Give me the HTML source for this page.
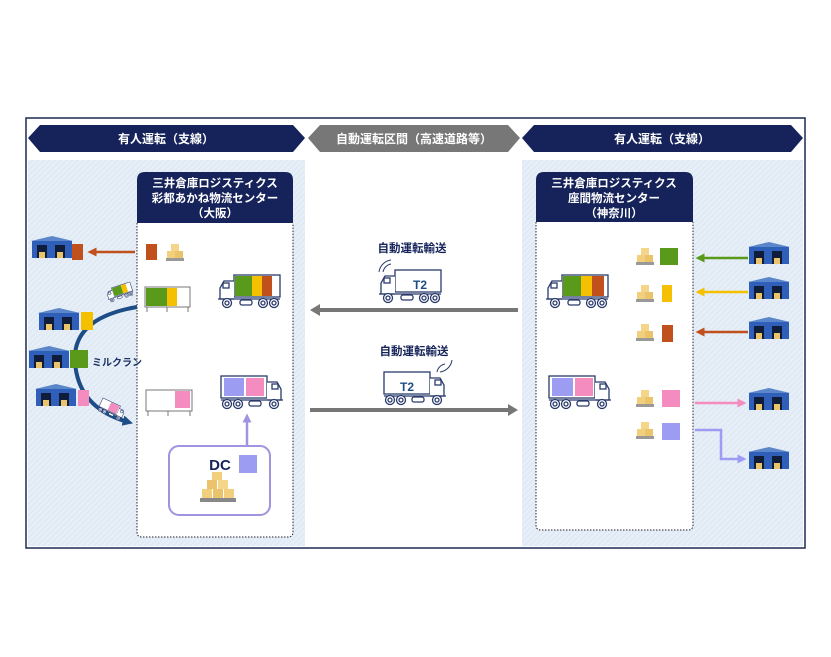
<!DOCTYPE html>
<html><head><meta charset="utf-8"><style>
html,body{margin:0;padding:0;background:#fff;}
svg{display:block;font-family:"Liberation Sans","Noto Sans CJK JP",sans-serif;}
</style></head><body>
<svg width="831" height="657" viewBox="0 0 831 657" xmlns="http://www.w3.org/2000/svg">
<defs>
<pattern id="hatch" width="4" height="4" patternUnits="userSpaceOnUse" patternTransform="rotate(45)">
<rect width="4" height="4" fill="#e6eef7"/><line x1="0" y1="0" x2="0" y2="4" stroke="#d9e4f0" stroke-width="1.5"/>
</pattern>
<g id="wh">
<polygon points="0,5 21,0 42,5" fill="#5b86c9"/>
<rect x="1" y="5" width="40" height="17" fill="#2f5fb8"/>
<rect x="6" y="9" width="10" height="13" fill="#0f1d3a"/>
<rect x="24" y="9" width="10" height="13" fill="#0f1d3a"/>
<rect x="8" y="16" width="6" height="6" fill="#e9c46a"/>
<rect x="26" y="16" width="6" height="6" fill="#e9c46a"/>
</g>
<g id="box">
<rect x="0" y="15" width="18" height="3" fill="#999"/>
<rect x="1" y="8" width="8" height="7" fill="#f2cf7c"/>
<rect x="9" y="8" width="8" height="7" fill="#ebc36a"/>
<rect x="5" y="1" width="8" height="7" fill="#f4d58a"/>
</g>
<g id="tl" fill="none" stroke="#2a3b6b" stroke-width="1.3">
<rect x="16" y="0" width="46" height="22" fill="#fff"/>
<path d="M16,6 H6 L2,13 V24 H16" fill="#fff"/>
<rect x="5" y="8" width="6" height="5"/>
<line x1="0" y1="24" x2="62" y2="24"/>
<circle cx="9" cy="28" r="4.5" fill="#fff"/><circle cx="9" cy="28" r="2"/>
<circle cx="45" cy="28" r="4.5" fill="#fff"/><circle cx="45" cy="28" r="2"/>
<circle cx="56" cy="28" r="4.5" fill="#fff"/><circle cx="56" cy="28" r="2"/>
<rect x="22" y="25" width="12" height="5" rx="2" fill="#fff"/>
</g>
<g id="tr" fill="none" stroke="#2a3b6b" stroke-width="1.3">
<rect x="0" y="0" width="46" height="22" fill="#fff"/>
<path d="M46,6 H56 L60,13 V24 H46" fill="#fff"/>
<rect x="51" y="8" width="6" height="5"/>
<line x1="0" y1="24" x2="62" y2="24"/>
<circle cx="6" cy="28" r="4.5" fill="#fff"/><circle cx="6" cy="28" r="2"/>
<circle cx="17" cy="28" r="4.5" fill="#fff"/><circle cx="17" cy="28" r="2"/>
<circle cx="53" cy="28" r="4.5" fill="#fff"/><circle cx="53" cy="28" r="2"/>
<rect x="28" y="25" width="12" height="5" rx="2" fill="#fff"/>
</g>
<marker id="ah" markerWidth="3.6" markerHeight="3.6" refX="1.8" refY="1.8" orient="auto" markerUnits="strokeWidth"><path d="M0,0 L3.6,1.8 L0,3.6 z" fill="context-stroke"/></marker>
<marker id="ah2" markerWidth="2.6" markerHeight="2.6" refX="1.3" refY="1.3" orient="auto" markerUnits="strokeWidth"><path d="M0,0 L2.6,1.3 L0,2.6 z" fill="#1d4d86"/></marker>
</defs>

<rect x="26" y="118" width="779" height="430" fill="#fff" stroke="#1c2a55" stroke-width="1.5"/>
<rect x="28" y="160" width="277" height="386" fill="url(#hatch)"/>
<rect x="522" y="160" width="281" height="386" fill="url(#hatch)"/>

<polygon points="28,138 40,125 293,125 305,138 293,152 40,152" fill="#16235a"/>
<text x="166" y="143" fill="#fff" font-size="12" font-weight="bold" text-anchor="middle">有人運転（支線）</text>
<polygon points="308,138 320,125 508,125 520,138 508,152 320,152" fill="#777"/>
<text x="414" y="143" fill="#fff" font-size="12" font-weight="bold" text-anchor="middle">自動運転区間（高速道路等）</text>
<polygon points="522,138 534,125 791,125 803,138 791,152 534,152" fill="#16235a"/>
<text x="662" y="143" fill="#fff" font-size="12" font-weight="bold" text-anchor="middle">有人運転（支線）</text>

<path d="M137,223 V532 Q137,537 142,537 H288 Q293,537 293,532 V223" fill="#fff" stroke="#223" stroke-dasharray="1.5 1.5"/>
<path d="M137,223 V180 Q137,172 145,172 H285 Q293,172 293,180 V223 Z" fill="#16235a"/>
<text fill="#fff" font-size="11.5" font-weight="bold" text-anchor="middle"><tspan x="215" y="187">三井倉庫ロジスティクス</tspan><tspan x="215" y="202">彩都あかね物流センター</tspan><tspan x="215" y="217">（大阪）</tspan></text>

<path d="M536,222 V525 Q536,530 541,530 H688 Q693,530 693,525 V222" fill="#fff" stroke="#223" stroke-dasharray="1.5 1.5"/>
<path d="M536,222 V180 Q536,172 544,172 H685 Q693,172 693,180 V222 Z" fill="#16235a"/>
<text fill="#fff" font-size="11.5" font-weight="bold" text-anchor="middle"><tspan x="614" y="187">三井倉庫ロジスティクス</tspan><tspan x="614" y="202">座間物流センター</tspan><tspan x="614" y="217">（神奈川）</tspan></text>

<use href="#wh" x="31" y="236"/>
<rect x="72" y="244" width="11" height="16" fill="#c0501c"/>
<line x1="135" y1="252" x2="92" y2="252" stroke="#c0501c" stroke-width="2.5" marker-end="url(#ah)"/>
<rect x="146" y="244" width="11" height="16" fill="#c0501c"/>
<use href="#box" x="166" y="243"/>

<rect x="145" y="287" width="45" height="20" fill="#fff" stroke="#777"/>
<rect x="146" y="288" width="21" height="18" fill="#5a9a1a"/>
<rect x="167" y="288" width="10" height="18" fill="#f5c000"/>
<path d="M147,307 v5 M167,307 v5 M188,307 v5" stroke="#777"/>
<use href="#tl" x="218" y="275"/>
<rect x="235" y="276" width="17" height="20" fill="#5a9a1a"/><rect x="252" y="276" width="10" height="20" fill="#f5c000"/><rect x="262" y="276" width="10" height="20" fill="#c0501c"/>

<path d="M137,307 Q72,318 75,362 Q78,408 128,422" fill="none" stroke="#1d4d86" stroke-width="4" marker-end="url(#ah2)"/>
<g transform="translate(105,290) rotate(-18) scale(0.42)"><use href="#tl"/><rect x="17" y="1" width="22" height="20" fill="#5a9a1a"/><rect x="39" y="1" width="12" height="20" fill="#f5c000"/></g>
<g transform="translate(103,398) rotate(25) scale(0.42)"><use href="#tr"/><rect x="22" y="1" width="22" height="20" fill="#f48cc0"/></g>
<use href="#wh" x="38" y="308"/>
<rect x="81" y="312" width="12" height="18" fill="#f5c000"/>
<use href="#wh" x="28" y="346"/>
<rect x="70" y="350" width="18" height="18" fill="#5a9a1a"/>
<text x="92" y="366" font-size="10" fill="#1d3566" font-weight="bold">ミルクラン</text>
<use href="#wh" x="35" y="384"/>
<rect x="78" y="390" width="11" height="16" fill="#f48cc0"/>

<rect x="146" y="390" width="46" height="21" fill="#fff" stroke="#777"/>
<rect x="175" y="391" width="15" height="17" fill="#f48cc0"/>
<path d="M148,411 v5 M168,411 v5 M190,411 v5" stroke="#777"/>
<use href="#tr" x="221" y="376"/>
<rect x="224" y="378" width="20" height="18" fill="#9c9cf2"/><rect x="246" y="378" width="18" height="18" fill="#f48cc0"/>
<line x1="247" y1="446" x2="247" y2="418" stroke="#9e94df" stroke-width="2.5" marker-end="url(#ah)"/>
<rect x="169" y="446" width="101" height="69" rx="10" fill="#fff" stroke="#9e94df" stroke-width="2"/>
<text x="220" y="470" font-size="15" font-weight="bold" fill="#16235a" text-anchor="middle">DC</text>
<rect x="239" y="455" width="18" height="18" fill="#9c9cf2"/>
<g transform="translate(198,472)">
<rect x="2" y="26" width="36" height="4" fill="#888"/>
<rect x="4" y="17" width="10" height="9" fill="#f2cf7c"/><rect x="15" y="17" width="10" height="9" fill="#ebc36a"/><rect x="26" y="17" width="10" height="9" fill="#f2cf7c"/>
<rect x="9" y="8" width="10" height="9" fill="#ebc36a"/><rect x="20" y="8" width="10" height="9" fill="#f4d58a"/>
<rect x="14" y="0" width="10" height="8" fill="#f2cf7c"/>
</g>

<text x="412" y="252" font-size="11.5" font-weight="bold" fill="#16235a" text-anchor="middle">自動運転輸送</text>
<use href="#tl" x="379" y="270"/>
<text x="420" y="289" font-size="12" font-weight="bold" fill="#1d4d86" text-anchor="middle">T2</text>
<path d="M383,272 a10,10 0 0 1 8,-8 M379,272 a14,14 0 0 1 12,-12" stroke="#2a3b6b" fill="none"/>
<line x1="518" y1="310" x2="318" y2="310" stroke="#777" stroke-width="4"/>
<polygon points="310,310 320,304 320,316" fill="#777"/>
<text x="414" y="355" font-size="11.5" font-weight="bold" fill="#16235a" text-anchor="middle">自動運転輸送</text>
<use href="#tr" x="384" y="372"/>
<text x="407" y="391" font-size="12" font-weight="bold" fill="#1d4d86" text-anchor="middle">T2</text>
<path d="M437,372 a10,10 0 0 1 8,-8 M440,372 a14,14 0 0 0 12,-12" stroke="#2a3b6b" fill="none"/>
<line x1="310" y1="410" x2="510" y2="410" stroke="#777" stroke-width="4"/>
<polygon points="518,410 508,404 508,416" fill="#777"/>

<use href="#tl" x="546" y="275"/>
<rect x="563" y="276" width="18" height="20" fill="#5a9a1a"/><rect x="581" y="276" width="11" height="20" fill="#f5c000"/><rect x="592" y="276" width="12" height="20" fill="#c0501c"/>
<use href="#tr" x="549" y="376"/>
<rect x="552" y="378" width="21" height="18" fill="#9c9cf2"/><rect x="575" y="378" width="18" height="18" fill="#f48cc0"/>

<use href="#box" x="636" y="247"/><rect x="660" y="248" width="18" height="17" fill="#5a9a1a"/>
<use href="#box" x="636" y="284"/><rect x="662" y="285" width="10" height="17" fill="#f5c000"/>
<use href="#box" x="636" y="323"/><rect x="662" y="325" width="11" height="17" fill="#c0501c"/>
<use href="#box" x="636" y="389"/><rect x="662" y="390" width="18" height="17" fill="#f48cc0"/>
<use href="#box" x="636" y="421"/><rect x="662" y="423" width="18" height="17" fill="#9c9cf2"/>

<line x1="748" y1="258" x2="700" y2="258" stroke="#5a9a1a" stroke-width="2.5" marker-end="url(#ah)"/>
<line x1="748" y1="292" x2="700" y2="292" stroke="#f5c000" stroke-width="2.5" marker-end="url(#ah)"/>
<line x1="748" y1="332" x2="700" y2="332" stroke="#c0501c" stroke-width="2.5" marker-end="url(#ah)"/>
<line x1="695" y1="403" x2="742" y2="403" stroke="#f48cc0" stroke-width="2.5" marker-end="url(#ah)"/>
<polyline points="695,430 721,430 721,459 742,459" fill="none" stroke="#9c9cf2" stroke-width="2.5" marker-end="url(#ah)"/>
<use href="#wh" x="748" y="242"/>
<use href="#wh" x="748" y="277"/>
<use href="#wh" x="748" y="317"/>
<use href="#wh" x="748" y="388"/>
<use href="#wh" x="748" y="447"/>
</svg>
</body></html>
